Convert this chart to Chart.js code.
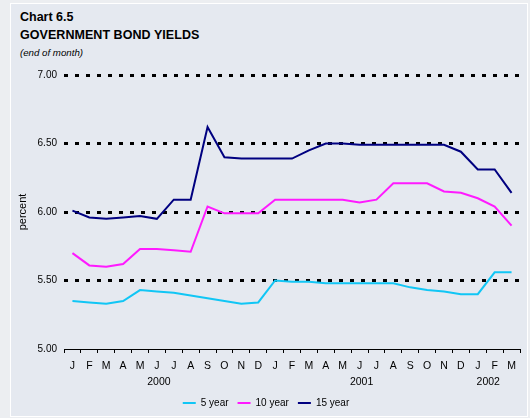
<!DOCTYPE html>
<html><head><meta charset="utf-8">
<script src="https://cdn.jsdelivr.net/npm/chart.js@4.4.0/dist/chart.umd.min.js"></script>
<style>
html,body{margin:0;padding:0;background:#eceef1;width:530px;height:418px;overflow:hidden;font-family:"Liberation Sans",Arial,sans-serif;color:#000;}
#panel{position:absolute;left:10px;top:3px;width:518px;height:414px;background:#e5e9f0;border:1px solid #fff;box-sizing:border-box;}
.t{position:absolute;left:20px;white-space:nowrap;}
#t1{top:11px;font-weight:bold;font-size:12.5px;line-height:12px;}
#t2{top:29px;font-weight:bold;font-size:12.5px;line-height:12px;letter-spacing:0.05px;}
#t3{top:47px;font-style:italic;font-size:9.7px;line-height:12px;}
canvas{position:absolute;left:0;top:0;}
</style></head>
<body>
<div id="panel"></div>
<div class="t" id="t1">Chart 6.5</div>
<div class="t" id="t2">GOVERNMENT BOND YIELDS</div>
<div class="t" id="t3">(end of month)</div>
<canvas id="c" width="530" height="418"></canvas>
<script>
const months = ['J','F','M','A','M','J','J','A','S','O','N','D','J','F','M','A','M','J','J','A','S','O','N','D','J','F','M'];
const years = ['2000','2001','2002'];
const yield5 = [5.35,5.34,5.33,5.35,5.43,5.42,5.41,5.39,5.37,5.35,5.33,5.34,5.50,5.49,5.49,5.48,5.48,5.48,5.48,5.48,5.45,5.43,5.42,5.40,5.40,5.56,5.56];
const yield10 = [5.70,5.61,5.60,5.62,5.73,5.73,5.72,5.71,6.04,5.99,5.99,5.99,6.09,6.09,6.09,6.09,6.09,6.07,6.09,6.21,6.21,6.21,6.15,6.14,6.10,6.04,5.90];
const yield15 = [6.01,5.96,5.95,5.96,5.97,5.95,6.09,6.09,6.62,6.40,6.39,6.39,6.39,6.39,6.45,6.50,6.50,6.49,6.49,6.49,6.49,6.49,6.49,6.44,6.31,6.31,6.14];
const seriesNames = ['5 year','10 year','15 year'];
const seriesColors = ['#11c6f5','#ff1aff','#000080'];

const FONT = '"Liberation Sans", Arial, sans-serif';
Chart.defaults.font.family = FONT;
Chart.defaults.color = '#000';

const yearPlugin = {
  id: 'years',
  afterDraw(chart) {
    const xs = chart.scales.x, ctx = chart.ctx;
    ctx.save();
    ctx.font = '10.5px ' + FONT;
    ctx.fillStyle = '#000';
    ctx.textAlign = 'center';
    ctx.textBaseline = 'middle';
    let start = 0;
    years.forEach(y => {
      const n = Math.min(12, months.length - start);
      const center = start + (n - 1) / 2;
      ctx.fillText(y, xs.getPixelForValue(center) - 6.4, 382);
      start += n;
    });
    ctx.restore();
  }
};

const datasets = [yield5, yield10, yield15].map((d, i) => ({
  label: seriesNames[i], data: d, borderColor: seriesColors[i], backgroundColor: seriesColors[i],
  borderWidth: 2, pointRadius: 0, tension: 0, fill: false
}));

new Chart(document.getElementById('c'), {
  type: 'line',
  data: { labels: months, datasets },
  plugins: [yearPlugin],
  options: {
    responsive: false, animation: false,
    layout: { padding: { left: 12, right: 10, top: 75, bottom: 0 } },
    plugins: {
      tooltip: { enabled: false },
      legend: {
        position: 'bottom',
        labels: {
          font: { size: 10 }, color: '#000', boxWidth: 13, boxHeight: 2, padding: 9,
          generateLabels(chart) {
            const items = Chart.defaults.plugins.legend.labels.generateLabels(chart);
            items.forEach(it => { it.lineWidth = 0; it.fillStyle = it.strokeStyle; });
            return items;
          }
        }
      }
    },
    scales: {
      x: {
        offset: true,
        grid: { display: true, drawOnChartArea: false, drawTicks: true, tickLength: 4, color: '#000', tickColor: '#000', offset: true, lineWidth: 1 },
        border: { display: true, color: '#000', width: 1 },
        ticks: { font: { size: 10.5 }, color: '#000', padding: 6.5, maxRotation: 0, autoSkip: false },
        afterFit(s) { s.height = 40; }
      },
      y: {
        min: 5, max: 7,
        ticks: { stepSize: 0.5, callback: v => Number(v).toFixed(2), font: { size: 10 }, color: '#000', padding: 7 },
        grid: { drawTicks: false, lineWidth: 3, color: c => (c.tick && c.tick.value === 5) ? 'rgba(0,0,0,0)' : '#000' },
        border: { display: false, dash: [4, 7] },
        title: { display: true, text: 'percent', font: { size: 11 }, color: '#000', padding: { top: 4, bottom: 4 } },
        afterFit(s) { s.width = 52; }
      }
    }
  }
});
</script>
</body></html>
